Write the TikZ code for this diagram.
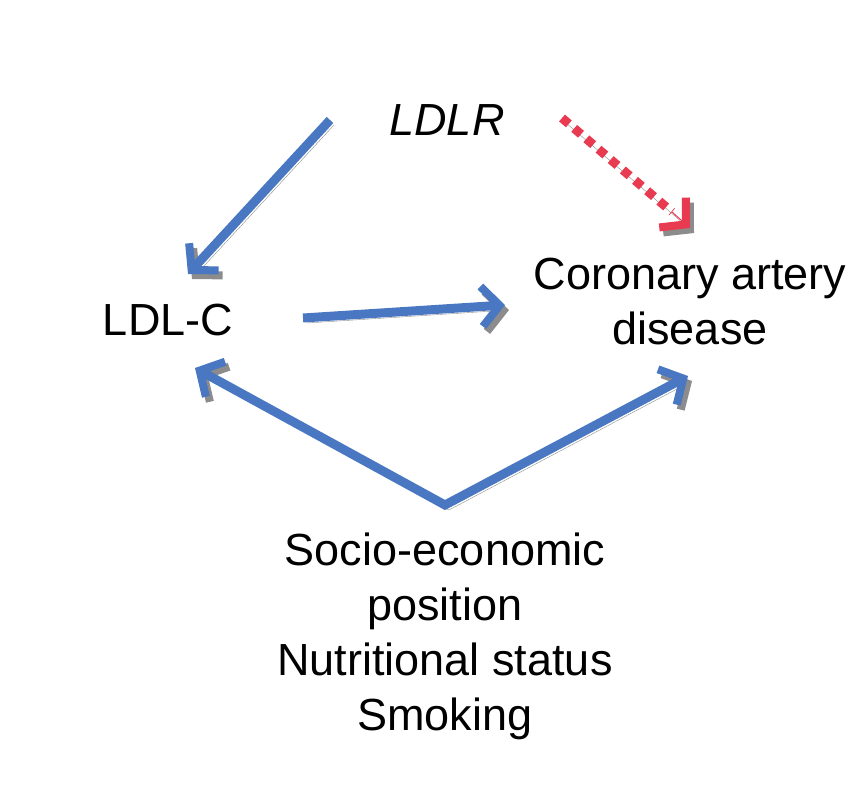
\documentclass[tikz,border=0pt]{standalone}
\usepackage{fontspec}
\setmainfont{Liberation Sans}
\usetikzlibrary{arrows.meta}
\definecolor{ablue}{RGB}{74,119,193}
\definecolor{ared}{RGB}{232,58,80}
\definecolor{ashadow}{RGB}{140,140,140}
\begin{document}
\begin{tikzpicture}[x=1pt,y=-1pt,
  lbl/.style={font=\fontsize{45}{55}\selectfont, align=center, inner sep=0pt},
  tip/.style={-{Straight Barb[length=18pt,width=40pt,line width=8pt]}},
  arr/.style={line width=9pt, draw=ablue, tip,
    preaction={draw=ashadow, transform canvas={shift={(4pt,-5pt)}}}},
  redarr/.style={line width=9pt, draw=ared, dash pattern=on 9pt off 7pt,
    preaction={draw=ashadow, transform canvas={shift={(4pt,-5pt)}}}}]
\useasboundingbox (0,0) rectangle (866,800);
\node[lbl, font=\fontsize{45}{55}\selectfont\itshape] (ldlr) at (447,120) {LDLR};
\node[lbl] (ldlc) at (168,320) {LDL-C};
\node[lbl] (cad) at (690,302) {Coronary artery\\disease};
\node[lbl] (ses) at (445,636) {Socio-economic\\position\\Nutritional status\\Smoking};
\coordinate (a1) at (330,120); \coordinate (a2) at (188,274);
\coordinate (b1) at (303,318); \coordinate (b2) at (505,305);
\coordinate (c1) at (195,368); \coordinate (c0) at (445,505); \coordinate (c2) at (688,376);
\coordinate (r1) at (562,118); \coordinate (r2) at (672,212); \coordinate (r3) at (690,228);
\draw[arr] (a1) -- (a2);
\draw[arr] (b1) -- (b2);
\draw[arr, {Straight Barb[length=18pt,width=40pt,line width=8pt]}-{Straight Barb[length=18pt,width=40pt,line width=8pt]}] (c1) -- (c0) -- (c2);
\draw[redarr] (r1) -- (r2);
\draw[arr, draw=ared, line width=1pt, {Straight Barb[length=18pt,width=40pt,line width=8pt]}-] (r3) -- (r2);
\end{tikzpicture}
\end{document}
